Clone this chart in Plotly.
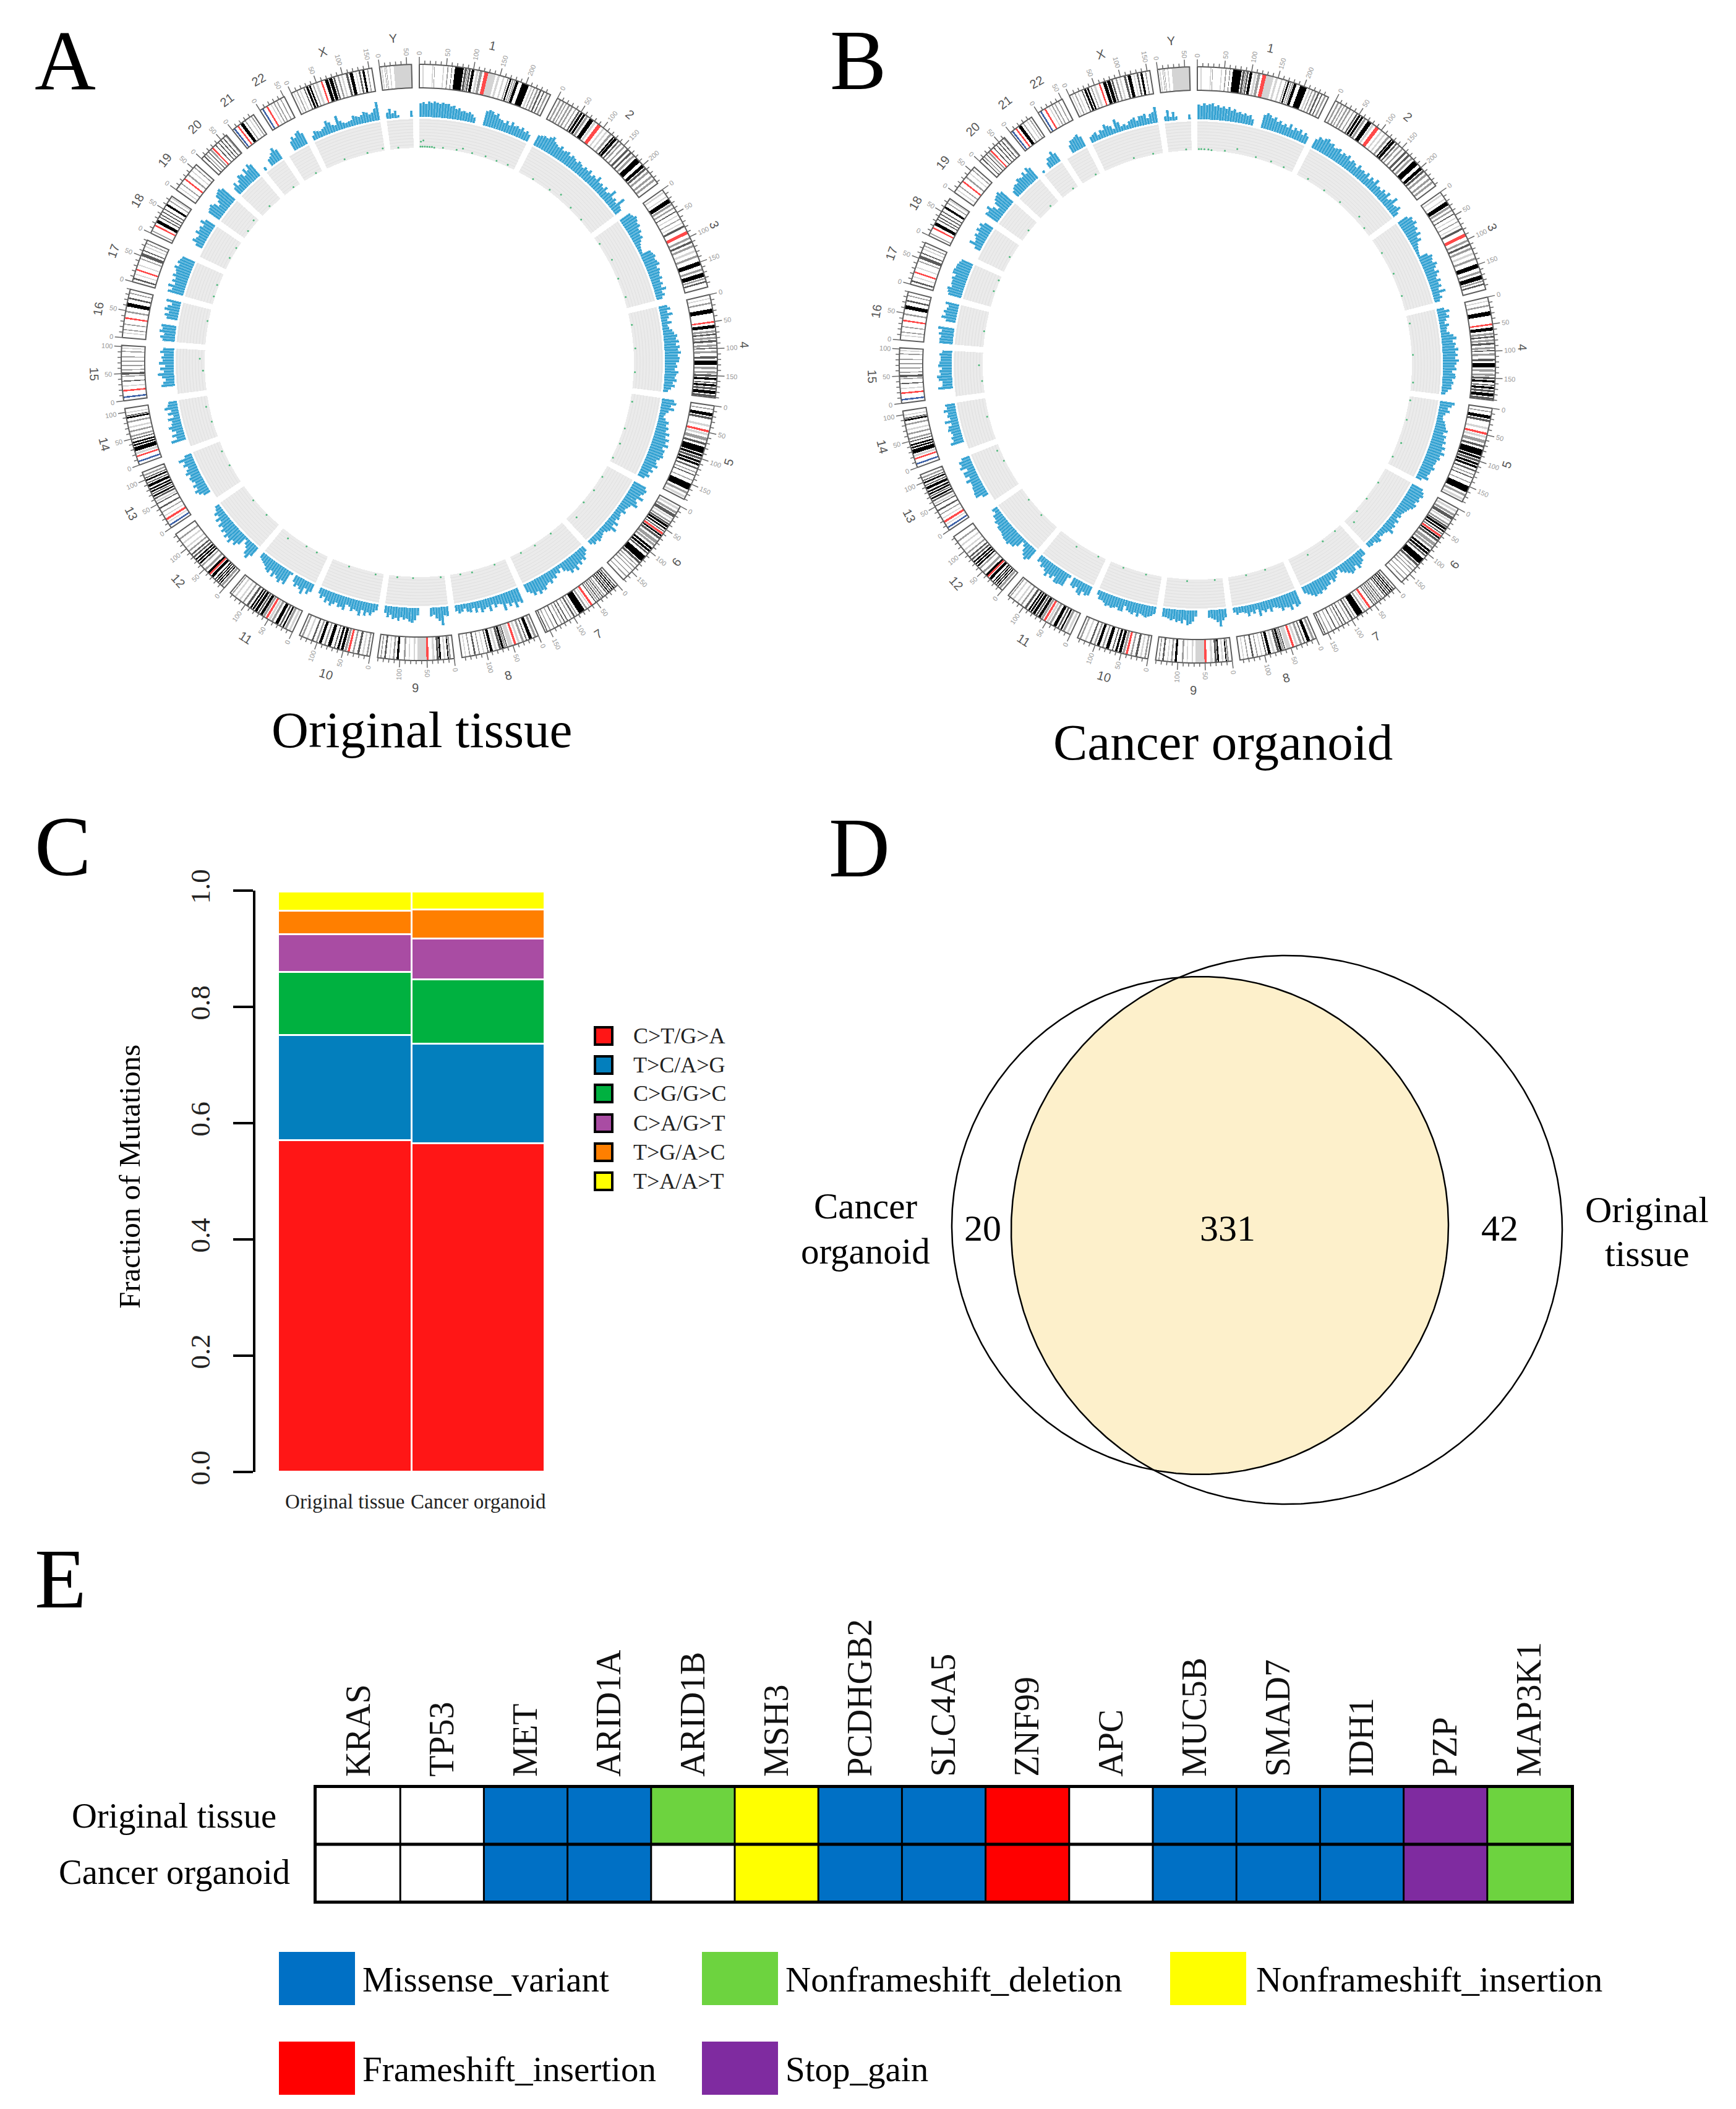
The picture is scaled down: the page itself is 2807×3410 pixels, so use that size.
import numpy as np
import plotly.graph_objects as go

W, H = 2807, 3410
SERIF = "Liberation Serif"
SANS = "Liberation Sans"

# ---------- Panels A and B: genome data ----------
CHR_NAMES = [str(i) for i in range(1, 23)] + ["X", "Y"]
CHR_LENGTHS = [249, 243, 198, 191, 181, 171, 159, 146, 141, 135, 135, 133, 115, 107, 102, 90, 81, 78, 59, 63, 48, 51, 155, 59]

BANDS = {
 "1": [(6,8,'l'),(24,26,'l'),(28,29,'m'),(44,46,'l'),(52,54,'m'),(60,61,'d'),(66,82,'k'),(84,88,'d'),(89,91,'m'),(92,95,'d'),(97,102,'k'),(106,110,'l'),(112,117,'m'),(121,128,'r'),(128,142,'l'),(146,150,'l'),(156,159,'l'),(165,167,'m'),(169,172,'k'),(174,176,'m'),(178,180,'m'),(181,186,'k'),(193,206,'k'),(210,213,'l'),(216,218,'m'),(222,225,'m'),(228,231,'d'),(235,237,'d'),(241,244,'m')],
 "2": [(5,8,'m'),(12,15,'m'),(18,20,'m'),(24,27,'m'),(30,33,'m'),(38,40,'m'),(45,48,'d'),(50,54,'k'),(56,60,'k'),(62,66,'m'),(70,78,'k'),(80,84,'l'),(88,95,'r'),(100,103,'l'),(108,111,'l'),(116,120,'m'),(124,127,'k'),(128,133,'k'),(136,139,'d'),(142,145,'m'),(150,153,'m'),(158,162,'d'),(166,170,'d'),(174,178,'m'),(182,192,'k'),(198,204,'k'),(206,210,'d'),(214,218,'m'),(224,228,'m'),(232,236,'m')],
 "3": [(4,7,'l'),(14,16,'l'),(20,28,'k'),(30,34,'m'),(38,41,'m'),(46,48,'d'),(54,56,'l'),(62,64,'m'),(70,72,'l'),(76,80,'d'),(88,94,'r'),(100,104,'m'),(108,112,'d'),(116,120,'m'),(126,130,'l'),(136,140,'m'),(148,156,'k'),(162,166,'m'),(170,178,'k'),(180,183,'m'),(186,189,'d')],
 "4": [(6,8,'l'),(14,17,'m'),(26,34,'k'),(49,52,'r'),(56,62,'k'),(66,70,'m'),(72,75,'d'),(78,82,'m'),(84,88,'d'),(92,96,'m'),(98,100,'d'),(104,108,'m'),(114,118,'d'),(122,130,'k'),(134,138,'m'),(142,146,'m'),(148,152,'d'),(154,158,'k'),(162,164,'d'),(166,170,'k'),(172,176,'d'),(178,184,'k'),(186,190,'d')],
 "5": [(6,8,'m'),(14,20,'k'),(22,26,'d'),(36,40,'l'),(46,50,'r'),(52,56,'l'),(60,66,'m'),(70,74,'d'),(78,90,'k'),(92,96,'k'),(98,102,'d'),(104,108,'k'),(110,114,'k'),(118,121,'d'),(126,128,'m'),(132,134,'d'),(142,144,'m'),(150,162,'k'),(166,170,'m'),(174,178,'l')],
 "6": [(4,8,'l'),(12,16,'m'),(18,24,'d'),(26,29,'l'),(33,36,'m'),(38,41,'d'),(42,46,'k'),(48,51,'k'),(54,56,'d'),(58,62,'r'),(63,66,'k'),(68,72,'d'),(76,82,'m'),(84,88,'m'),(92,96,'k'),(98,102,'k'),(104,107,'d'),(112,124,'k'),(126,130,'d'),(134,136,'m'),(140,142,'m'),(146,148,'m'),(154,156,'m'),(162,164,'m')],
 "7": [(4,6,'d'),(8,10,'k'),(12,14,'k'),(16,18,'d'),(20,22,'k'),(24,26,'d'),(30,32,'m'),(34,36,'d'),(38,40,'m'),(42,44,'d'),(46,48,'m'),(50,52,'d'),(58,62,'r'),(64,66,'l'),(70,73,'m'),(76,88,'k'),(92,94,'m'),(97,100,'d'),(104,106,'m'),(112,114,'d'),(118,120,'d'),(124,126,'m'),(132,134,'d'),(140,142,'m'),(148,150,'m'),(154,156,'d')],
 "8": [(4,8,'m'),(12,18,'k'),(22,24,'d'),(28,32,'m'),(36,40,'l'),(43,47,'r'),(50,58,'l'),(60,62,'d'),(63,66,'m'),(67,71,'k'),(72,76,'d'),(80,84,'l'),(88,93,'k'),(96,98,'d'),(104,106,'l'),(112,114,'m'),(120,123,'d'),(130,132,'m'),(138,140,'l')],
 "9": [(6,9,'m'),(10,12,'k'),(16,19,'l'),(24,27,'k'),(28,32,'d'),(36,40,'l'),(47,51,'r'),(51,68,'l'),(72,75,'l'),(82,84,'l'),(90,93,'m'),(102,106,'k'),(110,113,'m'),(118,120,'l'),(126,129,'d'),(134,136,'m')],
 "10": [(4,7,'m'),(12,15,'l'),(20,24,'d'),(30,33,'m'),(38,42,'r'),(44,48,'m'),(50,55,'k'),(58,62,'k'),(66,68,'d'),(74,80,'k'),(84,87,'m'),(92,97,'k'),(100,103,'m'),(108,111,'d'),(118,121,'l'),(128,131,'m')],
 "11": [(4,8,'l'),(12,16,'m'),(18,21,'k'),(24,27,'d'),(30,36,'k'),(40,44,'m'),(46,50,'l'),(52,56,'r'),(58,62,'m'),(63,68,'k'),(70,73,'d'),(75,80,'k'),(82,85,'k'),(87,90,'k'),(94,98,'d'),(104,107,'m'),(112,115,'l'),(122,125,'l'),(130,132,'m')],
 "12": [(4,8,'m'),(10,12,'k'),(14,16,'k'),(18,20,'k'),(22,24,'k'),(28,33,'k'),(35,38,'r'),(38,42,'k'),(46,50,'m'),(56,59,'m'),(62,65,'k'),(67,70,'k'),(72,75,'k'),(78,81,'d'),(84,87,'d'),(92,95,'m'),(100,103,'l'),(110,113,'l'),(120,123,'m')],
 "13": [(4,7,'b'),(11,13,'l'),(16,20,'r'),(24,26,'l'),(32,34,'m'),(40,43,'d'),(50,52,'d'),(54,57,'l'),(60,63,'d'),(65,68,'k'),(70,72,'d'),(74,77,'k'),(79,82,'k'),(85,90,'k'),(92,94,'d'),(97,100,'k'),(102,104,'d'),(107,110,'m')],
 "14": [(5,8,'b'),(15,18,'r'),(20,24,'l'),(26,34,'k'),(36,39,'k'),(41,44,'k'),(48,50,'d'),(53,56,'m'),(62,65,'m'),(70,73,'l'),(80,83,'m'),(88,91,'k'),(92,94,'d'),(98,100,'l')],
 "15": [(5,8,'b'),(17,20,'r'),(26,28,'l'),(35,37,'d'),(44,46,'m'),(48,52,'d'),(56,58,'m'),(64,66,'m'),(72,74,'m'),(80,82,'m'),(90,92,'m'),(96,98,'l')],
 "16": [(8,10,'l'),(14,16,'m'),(24,26,'m'),(35,38,'r'),(47,50,'m'),(58,65,'k'),(72,75,'d'),(82,84,'m')],
 "17": [(5,8,'d'),(14,16,'l'),(22,25,'r'),(32,34,'l'),(44,46,'m'),(50,56,'d'),(60,62,'d'),(68,70,'l'),(74,76,'m')],
 "18": [(4,6,'m'),(15,18,'r'),(22,28,'k'),(33,35,'d'),(38,40,'d'),(44,46,'d'),(50,52,'d'),(58,62,'k'),(68,70,'m'),(74,76,'l')],
 "19": [(6,8,'l'),(14,16,'m'),(24,27,'r'),(34,37,'m'),(44,46,'l'),(52,54,'m')],
 "20": [(6,8,'d'),(11,13,'m'),(17,19,'d'),(22,25,'m'),(27,30,'r'),(35,37,'d'),(42,44,'d'),(48,50,'d'),(54,56,'d'),(60,62,'m')],
 "21": [(3,6,'b'),(11,14,'r'),(18,24,'k'),(28,30,'m'),(36,38,'l'),(42,44,'m')],
 "22": [(4,7,'b'),(13,16,'r'),(22,24,'l'),(28,30,'m'),(34,36,'m'),(42,44,'m')],
 "X": [(4,6,'l'),(10,12,'m'),(16,18,'l'),(24,26,'d'),(29,33,'k'),(35,38,'k'),(42,44,'m'),(48,52,'l'),(58,61,'r'),(66,72,'k'),(74,80,'k'),(82,85,'d'),(90,93,'m'),(97,100,'l'),(106,110,'d'),(113,119,'k'),(124,126,'l'),(130,133,'d'),(137,141,'k'),(146,148,'m')],
 "Y": [(3,5,'l'),(9,10,'m'),(12,13,'m'),(18,20,'l'),(26,59,'l')],
}
BAND_COLORS = {'k':'#000000','d':'#5a5a5a','m':'#9c9c9c','l':'#d4d4d4','r':'#FF4A4A','b':'#3F63A8'}

HIST_A = {
 "1":[22,24,21,25,23,26,24,22,25,23,24,20,22,17,19,15,16,14,16,13,9,0,0,0,24,27,26,22,25,18,17,14,19,13,20,15,17,14,18,13,16,12],
 "2":[18,20,22,21,25,28,22,20,18,22,17,19,21,16,20,18,15,19,17,14,18,16,20,13,17,15,22,14,16,13,18,12,15,24,13,16,12,26,14,12],
 "3":[20,22,26,24,21,23,18,20,15,17,12,9,7,6,5,18,20,22,19,21,23,17,20,18,16,19,14,17,13,20,12,15,10],
 "4":[14,18,12,20,13,10,16,9,11,15,18,22,20,24,19,25,22,26,21,24,23,18,20,16,22,19,17,20,14,18,12,8],
 "5":[20,24,16,22,14,10,8,12,18,15,20,17,24,19,26,22,28,20,25,24,26,22,18,20,24,16,20,14,18,12],
 "6":[22,26,24,20,28,18,22,26,16,14,12,16,10,12,14,10,18,12,22,14,12,8,10,12,14,10,12,8],
 "7":[10,14,20,16,22,18,26,20,24,18,14,6,12,10,16,14,20,16,18,24,22,26,20,24,18,14],
 "8":[26,22,30,20,24,18,28,16,14,18,12,22,14,16,20,12,18,10,16,14,8,12,14,10],
 "9":[16,14,30,22,18,12,14,0,0,0,0,12,20,24,22,18,20,16,22,18,20,14,18,12],
 "10":[10,14,20,16,22,14,24,18,16,20,14,12,22,18,20,14,18,22,16,20,12,16,10],
 "11":[14,20,12,24,18,14,18,12,0,4,24,20,26,22,18,24,16,22,20,16,14,12,10],
 "12":[18,26,22,14,10,4,18,24,20,28,22,26,20,24,18,22,14,20,12,16,10,8],
 "13":[0,0,0,12,18,22,16,20,14,18,20,16,22,18,14,20,16,24,12],
 "14":[0,0,0,24,14,20,12,18,22,16,14,20,10,18,12,22,16,14],
 "15":[0,0,0,22,18,14,20,26,16,22,14,24,18,20,16,22,18],
 "16":[20,24,18,26,22,24,0,0,18,22,16,24,20,14,24],
 "17":[26,20,28,18,24,20,26,22,24,28,22,26,24,22],
 "18":[0,0,0,12,20,16,14,22,18,20,16,24,18],
 "19":[22,24,26,22,14,20,28,30,32,28],
 "20":[14,20,12,18,24,22,16,26,20,28,24],
 "21":[6,0,0,12,14,18,24,18],
 "22":[0,0,0,16,22,18,24,26,20],
 "X":[8,14,12,10,12,14,22,18,12,10,24,14,10,8,9,10,16,14,12,14,18,16,12,14,20,30],
 "Y":[10,16,8,12,4,0,0,0,0,10],
}
HIST_B = {
 "1":[24,22,26,23,25,27,22,24,21,23,20,23,18,21,16,18,15,17,14,16,10,0,0,0,22,26,24,20,23,17,20,15,18,14,21,13,18,15,19,12,17,13],
 "2":[16,22,20,24,26,21,23,18,20,22,16,20,18,22,15,19,17,13,20,15,17,14,19,12,18,14,21,13,15,12,17,14,20,11,15,23,12,14,18,10],
 "3":[18,24,22,26,20,22,17,22,14,18,10,8,6,5,4,16,22,20,18,24,20,16,22,17,14,20,15,18,12,22,11,14,9],
 "4":[12,20,14,18,12,9,15,11,10,14,20,24,18,22,20,26,21,24,20,26,22,19,22,15,20,21,16,18,15,16,10,7],
 "5":[24,20,14,18,12,9,10,14,16,18,22,16,22,20,24,20,26,22,28,22,24,20,20,18,22,18,18,16,20,10],
 "6":[20,24,26,22,24,20,24,22,18,16,14,12,14,10,16,12,16,14,20,12,10,10,8,14,12,8,10,9],
 "7":[12,12,18,20,24,16,22,24,20,16,12,5,10,14,18,12,18,18,22,20,24,22,24,20,16,12],
 "8":[24,26,20,28,22,20,24,18,16,14,20,14,18,14,22,10,16,12,18,12,10,10,12,8],
 "9":[14,18,28,20,16,14,12,0,0,0,0,10,18,22,24,16,22,18,20,16,18,16,14,14],
 "10":[12,16,18,20,18,16,22,16,20,18,16,10,20,20,16,18,20,18,20,16,14,14,8],
 "11":[16,18,14,22,20,12,16,14,0,5,22,22,24,24,16,22,18,24,18,14,16,10,12],
 "12":[20,24,20,16,9,5,16,22,22,26,24,24,22,20,20,20,16,18,14,14,8,10],
 "13":[0,0,0,10,20,20,18,18,16,16,22,14,20,20,12,22,18,20,14],
 "14":[0,0,0,22,16,18,14,16,20,18,12,22,12,16,14,20,14,16],
 "15":[0,0,0,24,16,16,22,24,18,20,16,22,20,18,18,20,16],
 "16":[22,22,20,24,20,26,0,0,16,24,18,22,18,16,22],
 "17":[22,24,26,20,22,22,24,20,26,26,24,24,22,20],
 "18":[0,0,0,10,22,14,16,20,16,22,18,22,16],
 "19":[24,22,28,20,12,22,26,28,30,26],
 "20":[12,16,18,16,22,20,18,24,18,26,22],
 "21":[4,0,0,10,16,16,22,16],
 "22":[0,0,0,14,20,20,22,24,18],
 "X":[10,12,14,8,14,12,20,16,14,8,22,16,8,10,7,12,14,16,10,16,16,18,10,16,18,26],
 "Y":[8,18,6,14,6,0,0,0,0,8],
}
GREEN_A = [("1",3,2),("1",8,2),("1",14,2),("1",20,2),("1",26,2),("1",32,2),("1",38,1),("1",10,12),("1",4,10),("1",60,2),("1",95,2),("1",110,6),("1",135,2),("1",170,3),("1",200,2),("1",230,3),
 ("2",40,2),("2",90,3),("2",120,8),("2",160,3),("2",200,2),("3",20,2),("3",70,6),("3",120,2),("3",170,3),("4",30,2),("4",90,3),("4",150,2),("5",20,3),("5",90,2),("5",130,3),("5",170,2),
 ("6",30,2),("6",70,3),("6",110,2),("6",150,10),("7",40,2),("7",90,3),("7",130,2),("8",30,2),("8",90,3),("8",120,2),("9",10,2),("9",80,2),("9",120,2),("10",20,3),("10",90,2),
 ("11",30,2),("11",60,2),("11",110,8),("12",40,2),("12",90,2),("13",50,2),("13",90,3),("14",40,2),("14",80,5),("15",50,3),("15",80,8),("16",60,2),("17",20,2),("17",50,3),("18",30,3),("18",60,2),
 ("19",20,2),("19",50,6),("20",30,3),("21",30,2),("22",35,2),("X",50,3),("X",110,2),("X",150,4),("Y",20,2)]
GREEN_B = [("1",4,2),("1",10,2),("1",18,2),("1",28,2),("1",36,1),("1",70,2),("1",100,8),("1",150,2),("1",190,3),("1",225,2),
 ("2",30,3),("2",80,2),("2",130,3),("2",190,8),("2",220,2),("3",40,2),("3",100,3),("3",160,2),("4",20,3),("4",100,2),("4",170,3),("5",10,2),("5",60,3),("5",120,6),("5",160,2),
 ("6",40,2),("6",90,2),("6",130,3),("6",155,12),("7",20,2),("7",60,3),("7",110,8),("8",50,2),("8",100,2),("9",20,2),("9",90,3),("10",40,2),("10",100,2),
 ("11",20,2),("11",80,6),("12",50,3),("12",100,2),("13",70,2),("13",100,5),("14",60,3),("15",30,2),("15",70,6),("16",40,2),("17",40,3),("17",70,2),("18",40,3),
 ("19",30,2),("20",40,3),("21",35,2),("22",40,2),("X",80,3),("X",130,2),("Y",45,2)]
TITLE_A = "Original tissue"
TITLE_B = "Cancer organoid"

# ---------- Panel C ----------
C_SAMPLES = ["Original tissue", "Cancer organoid"]
C_CLASSES = ["C>T/G>A", "T>C/A>G", "C>G/G>C", "C>A/G>T", "T>G/A>C", "T>A/A>T"]
C_COLORS = ["#FF1616", "#037FBD", "#00B140", "#A94CA3", "#FF7F00", "#FFFF00"]
C_ORIGINAL = [0.570, 0.181, 0.109, 0.065, 0.040, 0.033]
C_ORGANOID = [0.565, 0.171, 0.111, 0.070, 0.050, 0.031]

# ---------- Panel D ----------
VENN_LEFT_ONLY = "20"
VENN_BOTH = "331"
VENN_RIGHT_ONLY = "42"

# ---------- Panel E ----------
GENES = ["KRAS","TP53","MET","ARID1A","ARID1B","MSH3","PCDHGB2","SLC4A5","ZNF99","APC","MUC5B","SMAD7","IDH1","PZP","MAP3K1"]
ROWS = ["Original tissue", "Cancer organoid"]
VARIANTS = ["None", "Missense_variant", "Nonframeshift_deletion", "Nonframeshift_insertion", "Frameshift_insertion", "Stop_gain"]
VARIANT_COLORS = ["#FFFFFF", "#0070C5", "#6DD33F", "#FFFF00", "#FF0000", "#7F2BA0"]
E_ORIGINAL = [0,0,1,1,2,3,1,1,4,0,1,1,1,5,2]
E_ORGANOID = [0,0,1,1,0,3,1,1,4,0,1,1,1,5,2]

# ---------- helpers ----------
GAP = 1.5
PER_MB = (360 - GAP * 24) / sum(CHR_LENGTHS)
starts = {}
_t = 0.0
for n, l in zip(CHR_NAMES, CHR_LENGTHS):
    starts[n] = _t
    _t += l * PER_MB + GAP
LEN = dict(zip(CHR_NAMES, CHR_LENGTHS))

def th(name, mb):
    return starts[name] + mb * PER_MB

fig = go.Figure()
annotations = []
shapes = []

def note(x, y, text, size, family=SERIF, color="#000000", angle=0, xanchor="center"):
    annotations.append(dict(x=x / W, y=1 - y / H, xref="paper", yref="paper", text=text, showarrow=False,
                            font=dict(family=family, size=size, color=color), textangle=angle,
                            xanchor=xanchor, yanchor="middle", align="center"))

R_DOMAIN = 520
R_IDEO = (444, 482)
R_HIST = 397
R_BAND = (347, 394)

def circos(polar, cx, cy, hist, green):
    fig.add_trace(go.Barpolar(subplot=polar, theta=[th(n, LEN[n] / 2) for n in CHR_NAMES],
                              width=[LEN[n] * PER_MB for n in CHR_NAMES],
                              r=[R_BAND[1] - R_BAND[0]] * 24, base=[R_BAND[0]] * 24,
                              marker=dict(color="#EBEBEB", line=dict(width=0)), hoverinfo="skip", showlegend=False))
    at, ar = [], []
    for n in CHR_NAMES:
        ang = np.arange(th(n, 0), th(n, LEN[n]) + 0.01, 1.5).tolist() + [th(n, LEN[n])]
        for rr in range(R_BAND[0] + 5, R_BAND[1], 5):
            at += ang + [None]
            ar += [rr] * len(ang) + [None]
    fig.add_trace(go.Scatterpolar(subplot=polar, theta=at, r=ar, mode="lines",
                                  line=dict(color="#E0E0E0", width=1), hoverinfo="skip", showlegend=False))
    # histogram: full-width bin under a narrow darker peak, as the bars read in the source
    ht, hw, hr = [], [], []
    for n in CHR_NAMES:
        vals = hist[n]
        bw = LEN[n] / len(vals)
        for i, v in enumerate(vals):
            if v > 0:
                ht.append(th(n, (i + 0.5) * bw))
                hw.append(bw * PER_MB)
                hr.append(v)
    fig.add_trace(go.Barpolar(subplot=polar, theta=ht, width=hw, r=hr, base=[R_HIST] * len(hr),
                              marker=dict(color="#66B9DE", line=dict(width=0)), hoverinfo="skip", showlegend=False))
    fig.add_trace(go.Barpolar(subplot=polar, theta=ht, width=[w * 0.45 for w in hw], r=hr, base=[R_HIST] * len(hr),
                              marker=dict(color="#2E9FD0", line=dict(width=0)), hoverinfo="skip", showlegend=False))
    for code, col in BAND_COLORS.items():
        bt, bw = [], []
        for n in CHR_NAMES:
            for s, e, c in BANDS[n]:
                if c == code:
                    bt.append(th(n, (s + e) / 2))
                    bw.append((e - s) * PER_MB)
        fig.add_trace(go.Barpolar(subplot=polar, theta=bt, width=bw, r=[R_IDEO[1] - R_IDEO[0]] * len(bt),
                                  base=[R_IDEO[0]] * len(bt), marker=dict(color=col, line=dict(width=0)),
                                  hoverinfo="skip", showlegend=False))
    ot, orr, tt, tr, mt, mr = [], [], [], [], [], []
    for n in CHR_NAMES:
        ang = np.arange(th(n, 0), th(n, LEN[n]), 0.8).tolist() + [th(n, LEN[n])]
        ot += ang + ang[::-1] + [ang[0], None]
        orr += [R_IDEO[1]] * len(ang) + [R_IDEO[0]] * len(ang) + [R_IDEO[1], None]
        for mb in range(0, LEN[n] + 1, 10):
            major = mb % 50 == 0
            (tt if major else mt).extend([th(n, mb), th(n, mb), None])
            (tr if major else mr).extend([R_IDEO[1], 494 if major else 488, None])
            if major:
                t = th(n, mb)
                a = np.radians(t)
                lab = str(mb)
                rr = 497 + 3 * len(lab)
                ang_t = t - 90 if t < 180 else t + 90 - 360
                note(cx + rr * np.sin(a), cy - rr * np.cos(a), lab, 11, SANS, "#999999", ang_t)
        t = th(n, LEN[n] / 2)
        a = np.radians(t)
        ang_c = t if (t < 90 or t > 270) else t - 180
        if ang_c > 180:
            ang_c -= 360
        note(cx + 526 * np.sin(a), cy - 526 * np.cos(a), n, 20, SANS, "#555555", ang_c)
    fig.add_trace(go.Scatterpolar(subplot=polar, theta=ot, r=orr, mode="lines",
                                  line=dict(color="#5c5c5c", width=2), hoverinfo="skip", showlegend=False))
    fig.add_trace(go.Scatterpolar(subplot=polar, theta=tt + mt, r=tr + mr, mode="lines",
                                  line=dict(color="#666666", width=1.5), hoverinfo="skip", showlegend=False))
    fig.add_trace(go.Scatterpolar(subplot=polar, theta=[th(g[0], g[1]) for g in green],
                                  r=[R_BAND[0] + g[2] for g in green], mode="markers",
                                  marker=dict(color="#4CB87A", size=3), hoverinfo="skip", showlegend=False))
    return dict(domain=dict(x=[(cx - R_DOMAIN) / W, (cx + R_DOMAIN) / W],
                            y=[1 - (cy + R_DOMAIN) / H, 1 - (cy - R_DOMAIN) / H]),
                bgcolor="rgba(0,0,0,0)", barmode="overlay",
                radialaxis=dict(visible=False, range=[0, R_DOMAIN]),
                angularaxis=dict(visible=False, direction="clockwise", rotation=90, thetaunit="degrees"))

polar_a = circos("polar", 678, 586, HIST_A, GREEN_A)
polar_b = circos("polar2", 1936, 590, HIST_B, GREEN_B)

note(682, 1180, TITLE_A, 83)
note(1977, 1200, TITLE_B, 83)
for letter, x, y in [("A", 106, 98), ("B", 1387, 98), ("C", 101, 1369), ("D", 1389, 1371), ("E", 98, 2553)]:
    note(x, y, letter, 137)

# ---------- Panel C ----------
for i, cl in enumerate(C_CLASSES):
    fig.add_trace(go.Bar(x=[0, 1], y=[C_ORIGINAL[i], C_ORGANOID[i]], width=1, name=cl,
                         marker=dict(color=C_COLORS[i], line=dict(color="#FFFFFF", width=3)),
                         xaxis="x", yaxis="y", hoverinfo="skip", showlegend=False))
note(209, 1902, "Fraction of Mutations", 49, angle=-90)
LEG_Y = [1675, 1722, 1768, 1816, 1863, 1910]
fig.add_trace(go.Scatter(x=[976] * 6, y=LEG_Y, mode="markers", xaxis="x3", yaxis="y3",
                         marker=dict(symbol="square", size=28, color=C_COLORS, line=dict(color="#000000", width=4)),
                         hoverinfo="skip", showlegend=False))
for cl, yy in zip(C_CLASSES, LEG_Y):
    note(1022, yy, cl, 36, xanchor="left", color="#222222")

# ---------- Panel D ----------
EL = (1539, 2342, 1579, 2384)
ER = (1635, 2526, 1545, 2432)
def ellipse_pts(e, n=720):
    t = np.linspace(0, 2 * np.pi, n, endpoint=False)
    cx, cy, a, b = (e[0] + e[1]) / 2, (e[2] + e[3]) / 2, (e[1] - e[0]) / 2, (e[3] - e[2]) / 2
    return cx + a * np.cos(t), cy + b * np.sin(t)
def inside(e, x, y):
    cx, cy, a, b = (e[0] + e[1]) / 2, (e[2] + e[3]) / 2, (e[1] - e[0]) / 2, (e[3] - e[2]) / 2
    return ((x - cx) / a) ** 2 + ((y - cy) / b) ** 2 <= 1
xl, yl = ellipse_pts(EL)
xr, yr = ellipse_pts(ER)
px = np.concatenate([xl[inside(ER, xl, yl)], xr[inside(EL, xr, yr)]])
py = np.concatenate([yl[inside(ER, xl, yl)], yr[inside(EL, xr, yr)]])
mx, my = px.mean(), py.mean()
order = np.argsort(np.arctan2(py - my, px - mx))
fig.add_trace(go.Scatter(x=px[order], y=py[order], fill="toself", fillcolor="#FDF0CB", mode="none",
                         xaxis="x3", yaxis="y3", hoverinfo="skip", showlegend=False))
for xx, yy in [(xl, yl), (xr, yr)]:
    fig.add_trace(go.Scatter(x=np.append(xx, xx[0]), y=np.append(yy, yy[0]), mode="lines",
                             line=dict(color="#000000", width=2.5), xaxis="x3", yaxis="y3",
                             hoverinfo="skip", showlegend=False))
note(1589, 1986, VENN_LEFT_ONLY, 60)
note(1985, 1986, VENN_BOTH, 60)
note(2425, 1986, VENN_RIGHT_ONLY, 60)
note(1399, 1950, "Cancer", 59)
note(1399, 2023, "organoid", 59)
note(2663, 1956, "Original", 60)
note(2663, 2027, "tissue", 60)

# ---------- Panel E ----------
nv = len(VARIANT_COLORS) - 1
cs = [[i / nv, c] for i, c in enumerate(VARIANT_COLORS)]
fig.add_trace(go.Heatmap(z=[E_ORIGINAL, E_ORGANOID], x=list(range(len(GENES))), y=[0, 1], colorscale=cs,
                         zmin=0, zmax=nv, showscale=False, xaxis="x2", yaxis="y2", hoverinfo="skip"))
gx, gy = [], []
for i in range(1, len(GENES)):
    gx += [i - 0.5, i - 0.5, None]
    gy += [-0.5, 1.5, None]
fig.add_trace(go.Scatter(x=gx, y=gy, mode="lines", line=dict(color="#000000", width=3), xaxis="x2", yaxis="y2",
                         hoverinfo="skip", showlegend=False))
fig.add_trace(go.Scatter(x=[-0.5, len(GENES) - 0.5], y=[0.5, 0.5], mode="lines", line=dict(color="#000000", width=5),
                         xaxis="x2", yaxis="y2", hoverinfo="skip", showlegend=False))
note(281, 2936, ROWS[0], 56.5)
note(282, 3027, ROWS[1], 56.5)

LEGEND_E = [(1, 451, 3156, 133), (2, 1135, 3156, 133), (3, 1892, 3156, 137), (4, 451, 3301, 133), (5, 1135, 3301, 133)]
for idx, x0, y0, dx in LEGEND_E:
    shapes.append(dict(type="rect", xref="x3", yref="y3", x0=x0, x1=x0 + 123, y0=y0, y1=y0 + 86,
                       fillcolor=VARIANT_COLORS[idx], line=dict(width=0)))
    note(x0 + dx, y0 + 44, VARIANTS[idx], 57, xanchor="left")

fig.update_layout(
    width=W, height=H, margin=dict(l=0, r=0, t=0, b=0, pad=0, autoexpand=False), paper_bgcolor="#FFFFFF", plot_bgcolor="rgba(0,0,0,0)",
    barmode="stack", bargap=0, showlegend=False, font=dict(family=SERIF, color="#000000"),
    polar=polar_a, polar2=polar_b, annotations=annotations, shapes=shapes,
    xaxis=dict(domain=[413 / W, 881 / W], range=[-0.672, 1.5], tickvals=[0, 1], ticktext=C_SAMPLES, automargin=False,
               ticks="outside", ticklen=18, tickcolor="rgba(0,0,0,0)", showgrid=False, zeroline=False, showline=False,
               tickfont=dict(family=SERIF, size=33, color="#222222"), tickangle=0, anchor="y"),
    yaxis=dict(domain=[1 - 2380 / H, 1 - 1440 / H], range=[0, 1], tickvals=[0, 0.2, 0.4, 0.6, 0.8, 1.0], automargin=False,
               tickformat=".1f", ticks="outside", ticklen=32, tickwidth=4, tickcolor="#000000", showline=True,
               linewidth=4, linecolor="#000000", showgrid=False, zeroline=False, tickangle=-90, ticklabelstandoff=20,
               tickfont=dict(family=SERIF, size=45, color="#222222"), anchor="x"),
    xaxis2=dict(domain=[512 / W, 2540 / W], range=[-0.5, len(GENES) - 0.5], tickvals=list(range(len(GENES))), ticktext=GENES,
                side="top", tickangle=-90, ticks="outside", ticklen=2, tickcolor="rgba(0,0,0,0)", showgrid=False, zeroline=False,
                showline=True, mirror=True, linewidth=5, linecolor="#000000", automargin=False,
                tickfont=dict(family=SERIF, size=56, color="#111111"), anchor="y2"),
    yaxis2=dict(domain=[1 - 3073 / H, 1 - 2891 / H], range=[1.5, -0.5], showticklabels=False, ticks="", showgrid=False, automargin=False,
                zeroline=False, showline=True, mirror=True, linewidth=5, linecolor="#000000", anchor="x2"),
    xaxis3=dict(domain=[0, 1], range=[0, W], visible=False, anchor="y3", fixedrange=True, automargin=False),
    yaxis3=dict(domain=[0, 1], range=[H, 0], visible=False, anchor="x3", fixedrange=True, automargin=False),
)

fig.write_html("out.html", config={"displayModeBar": False}, post_script="document.body.style.margin='0';")
